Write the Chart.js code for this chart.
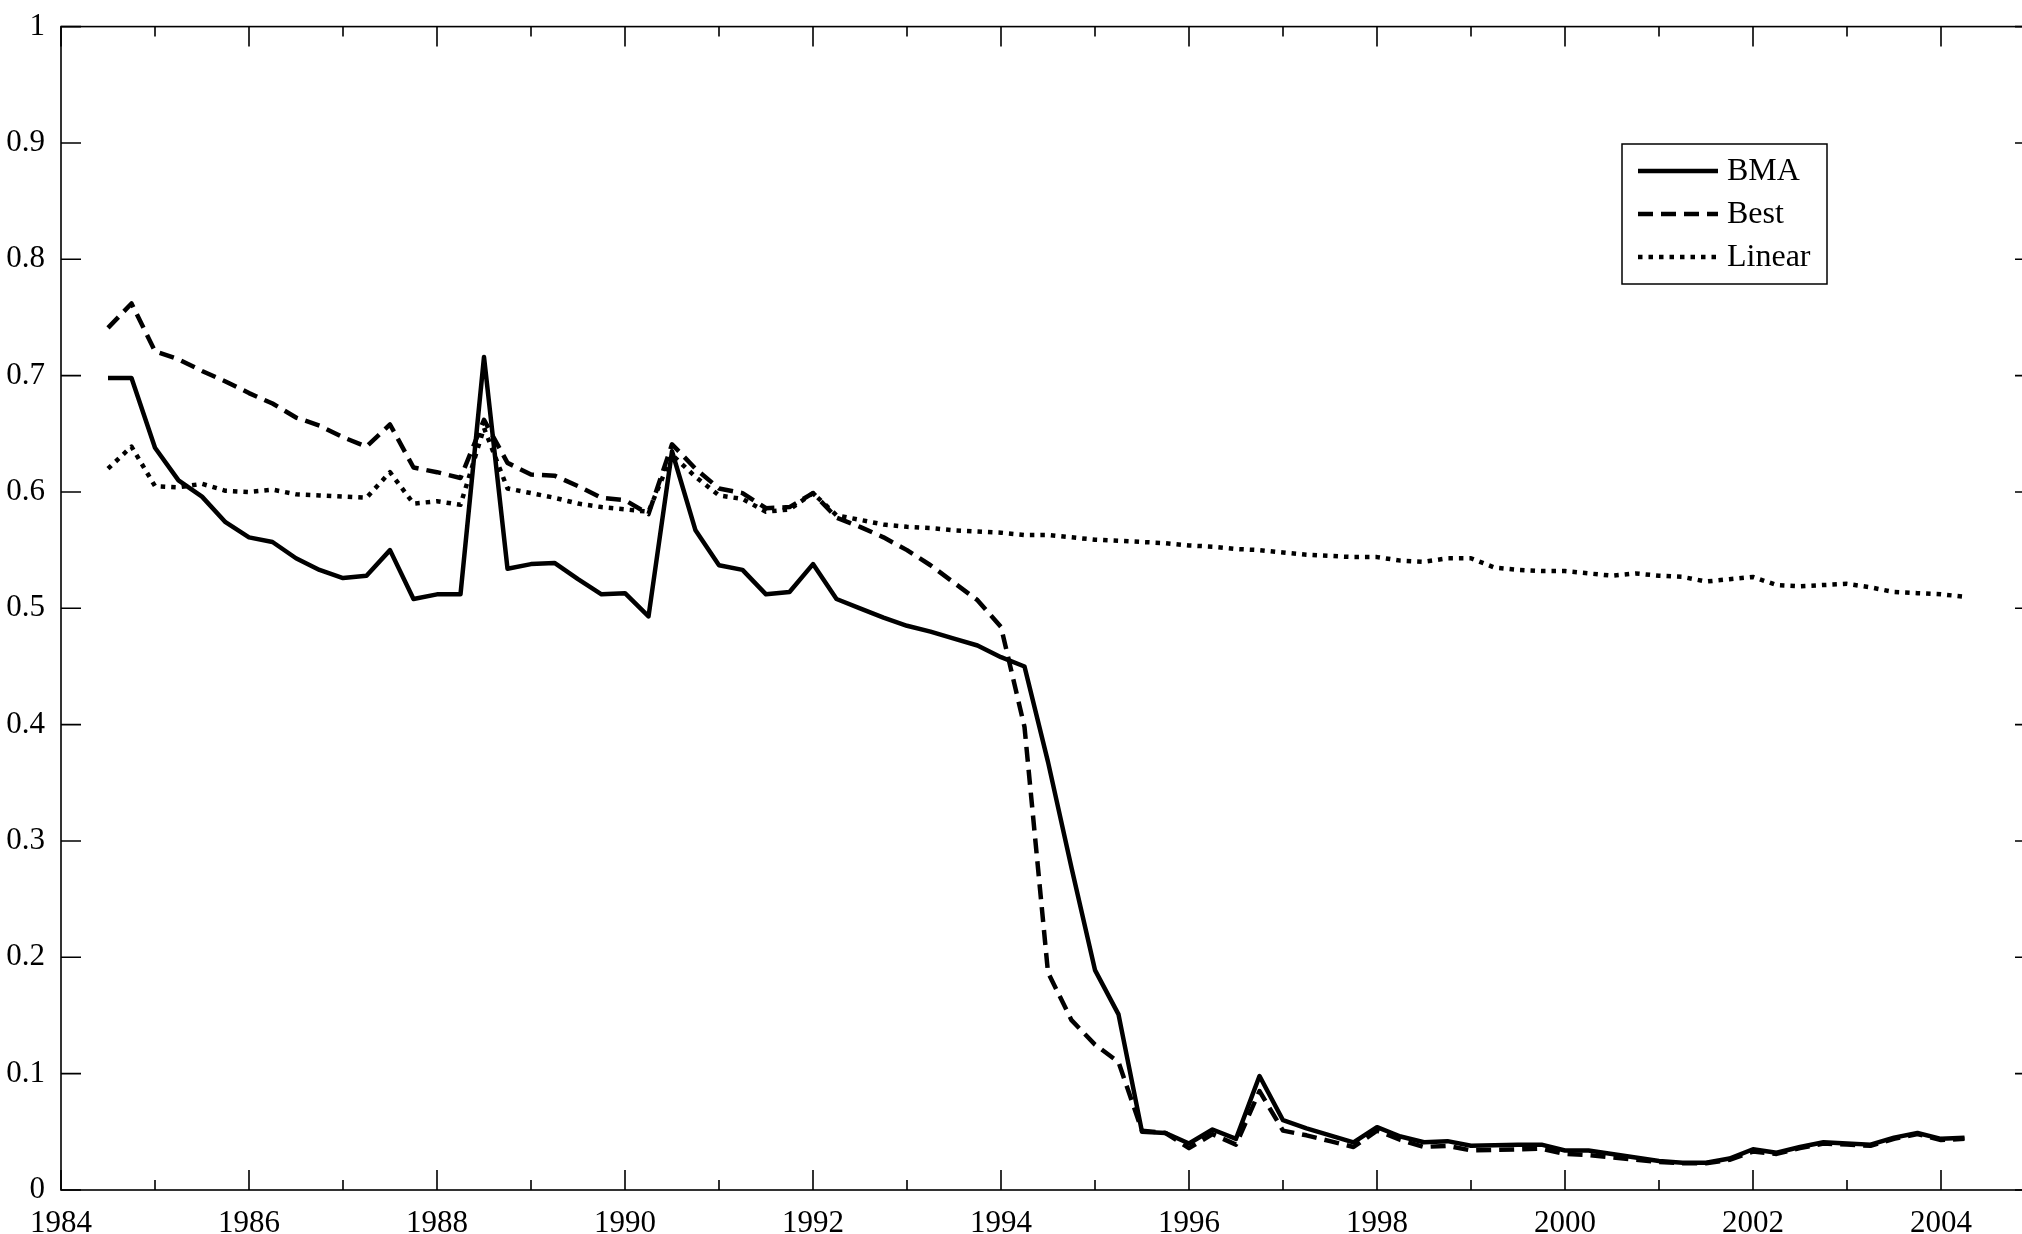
<!DOCTYPE html>
<html lang="en">
<head>
  <meta charset="UTF-8">
  <title>BMA, Best, Linear</title>
  <script src="https://cdn.jsdelivr.net/npm/chart.js"></script>
  <style>
    html, body {
      margin: 0;
      padding: 0;
      background: #fff;
      overflow: hidden;
    }

    /* un poco más ancho que la ventana: el eje derecho queda fuera, como en la figura */
    #wrap {
      position: absolute;
      left: 0;
      top: 0;
      width: 2040px;
      height: 1234px;
    }
  </style>
</head>
<body>
  <div id="wrap"><canvas id="grafico"></canvas></div>

  <script>
    // trimestres 1984.5 ... 2004.25
    const quarters = [];
    for (let i = 0; i < 80; i++) quarters.push(1984.5 + i * 0.25);

    const bma = [
      0.698, 0.698,
      0.638, 0.610, 0.596, 0.574,
      0.561, 0.557, 0.543, 0.533,
      0.526, 0.528, 0.550, 0.508,
      0.512, 0.512, 0.716, 0.534,
      0.538, 0.539, 0.525, 0.512,
      0.513, 0.493, 0.635, 0.567,
      0.537, 0.533, 0.512, 0.514,
      0.538, 0.508, 0.500, 0.492,
      0.485, 0.480, 0.474, 0.468,
      0.458, 0.450, 0.368, 0.277,
      0.189, 0.151, 0.050, 0.049,
      0.040, 0.052, 0.044, 0.098,
      0.060, 0.053, 0.047, 0.041,
      0.054, 0.046, 0.041, 0.042,
      0.038, 0.0385, 0.039, 0.039,
      0.034, 0.034, 0.031, 0.028,
      0.025, 0.0235, 0.0235, 0.027,
      0.035, 0.032, 0.037, 0.041,
      0.040, 0.039, 0.045, 0.049,
      0.044, 0.045
    ];

    const best = [
      0.741, 0.762,
      0.721, 0.714, 0.704, 0.695,
      0.685, 0.676, 0.664, 0.657,
      0.647, 0.639, 0.658, 0.621,
      0.617, 0.612, 0.662, 0.625,
      0.615, 0.614, 0.605, 0.595,
      0.593, 0.581, 0.641, 0.620,
      0.603, 0.599, 0.586, 0.587,
      0.599, 0.578, 0.570, 0.561,
      0.550, 0.537, 0.522, 0.507,
      0.484, 0.398, 0.187, 0.146,
      0.125, 0.110, 0.051, 0.049,
      0.036, 0.048, 0.039, 0.085,
      0.051, 0.047, 0.042, 0.037,
      0.051, 0.043, 0.037, 0.038,
      0.034, 0.0345, 0.035, 0.0355,
      0.031, 0.030, 0.028, 0.026,
      0.024, 0.023, 0.023, 0.026,
      0.033, 0.031, 0.036, 0.040,
      0.039, 0.038, 0.044, 0.048,
      0.043, 0.044
    ];

    const linear = [
      0.620, 0.639,
      0.605, 0.604, 0.607, 0.601,
      0.600, 0.602, 0.598, 0.597,
      0.596, 0.595, 0.617, 0.590,
      0.592, 0.589, 0.655, 0.603,
      0.599, 0.595, 0.590, 0.587,
      0.585, 0.583, 0.632, 0.613,
      0.597, 0.594, 0.583, 0.585,
      0.599, 0.580, 0.576, 0.572,
      0.570, 0.569, 0.567, 0.566,
      0.565, 0.563, 0.563, 0.561,
      0.559, 0.558, 0.557, 0.556,
      0.554, 0.553, 0.551, 0.550,
      0.548, 0.546, 0.545, 0.544,
      0.544, 0.541, 0.540, 0.543,
      0.543, 0.535, 0.533, 0.532,
      0.532, 0.530, 0.528, 0.530,
      0.528, 0.527, 0.523, 0.525,
      0.527, 0.520, 0.519, 0.520,
      0.521, 0.518, 0.514, 0.513,
      0.512, 0.510
    ];

    const xTickLabels = [1984, 1986, 1988, 1990, 1992, 1994, 1996, 1998, 2000, 2002, 2004];
    const xMinorTicks = [1985, 1987, 1989, 1991, 1993, 1995, 1997, 1999, 2001, 2003];
    const yTicks = [0, 0.1, 0.2, 0.3, 0.4, 0.5, 0.6, 0.7, 0.8, 0.9, 1];
    const yTickLabels = ['0', '0.1', '0.2', '0.3', '0.4', '0.5', '0.6', '0.7', '0.8', '0.9', '1'];

    const serif = "'Liberation Serif', 'Times New Roman', 'DejaVu Serif', serif";

    const pares = (vals) => vals.map((v, i) => ({ x: quarters[i], y: v }));

    // marco con marcas hacia dentro, estilo MATLAB
    const marcoPlugin = {
      id: 'marco',
      beforeDatasetsDraw(chart) {
        const { ctx, chartArea: a, scales: { x, y } } = chart;
        ctx.save();
        ctx.strokeStyle = '#000';
        ctx.lineWidth = 1.6;
        ctx.strokeRect(a.left, a.top, a.right - a.left, a.bottom - a.top);
        ctx.beginPath();
        xTickLabels.concat(xMinorTicks).forEach(v => {
          const px = x.getPixelForValue(v);
          const len = v % 2 === 0 ? 20 : 10;
          ctx.moveTo(px, a.bottom); ctx.lineTo(px, a.bottom - len);
          ctx.moveTo(px, a.top); ctx.lineTo(px, a.top + len);
        });
        yTicks.forEach(v => {
          const py = y.getPixelForValue(v);
          ctx.moveTo(a.left, py); ctx.lineTo(a.left + 20, py);
          ctx.moveTo(a.right, py); ctx.lineTo(a.right - 20, py);
        });
        ctx.stroke();
        ctx.restore();
      }
    };

    // leyenda dentro del gráfico, arriba a la derecha
    const leyendaPlugin = {
      id: 'leyenda',
      afterDraw(chart) {
        const ctx = chart.ctx;
        const box = { x: 1622, y: 144, w: 205, h: 140 };
        ctx.save();
        ctx.fillStyle = '#fff';
        ctx.fillRect(box.x, box.y, box.w, box.h);
        ctx.strokeStyle = '#000';
        ctx.lineWidth = 1.5;
        ctx.strokeRect(box.x, box.y, box.w, box.h);
        ctx.font = '32px ' + serif;
        ctx.textBaseline = 'middle';
        ctx.fillStyle = '#000';
        chart.data.datasets.forEach((ds, i) => {
          const yy = 171 + i * 43;
          ctx.beginPath();
          ctx.lineWidth = ds.borderWidth;
          ctx.setLineDash(ds.borderDash || []);
          ctx.lineCap = 'butt';
          ctx.moveTo(1638, yy);
          ctx.lineTo(1718, yy);
          ctx.stroke();
          ctx.setLineDash([]);
          ctx.fillText(ds.label, 1727, yy + 1);
        });
        ctx.restore();
      }
    };

    new Chart(document.getElementById('grafico'), {
      type: 'line',
      data: {
        datasets: [
          { label: 'BMA', data: pares(bma), borderColor: '#000', borderWidth: 4.5, borderDash: [] },
          { label: 'Best', data: pares(best), borderColor: '#000', borderWidth: 4.5, borderDash: [15, 8] },
          { label: 'Linear', data: pares(linear), borderColor: '#000', borderWidth: 4.5, borderDash: [4.5, 6] }
        ]
      },
      options: {
        responsive: true,
        maintainAspectRatio: false,
        animation: false,
        events: [],
        layout: { padding: { top: 20, right: 5, left: 0, bottom: 0 } },
        elements: {
          point: { radius: 0 },
          line: { tension: 0, borderJoinStyle: 'round', borderCapStyle: 'butt' }
        },
        plugins: {
          legend: { display: false },
          tooltip: { enabled: false }
        },
        scales: {
          x: {
            type: 'linear',
            min: 1984,
            max: 2005,
            grid: { display: false },
            border: { display: false },
            afterBuildTicks: (s) => { s.ticks = xTickLabels.map(v => ({ value: v })); },
            afterFit: (s) => { s.height = 44; },
            ticks: {
              color: '#000',
              padding: 7,
              maxRotation: 0,
              autoSkip: false,
              font: { family: serif, size: 31 },
              callback: (v) => String(v)
            }
          },
          y: {
            min: 0,
            max: 1,
            grid: { display: false },
            border: { display: false },
            afterBuildTicks: (s) => { s.ticks = yTicks.map(v => ({ value: v })); },
            afterFit: (s) => { s.width = 61; },
            ticks: {
              color: '#000',
              padding: 8,
              autoSkip: false,
              font: { family: serif, size: 31 },
              callback: (v, i) => yTickLabels[i]
            }
          }
        }
      },
      plugins: [marcoPlugin, leyendaPlugin]
    });
  </script>
</body>
</html>
